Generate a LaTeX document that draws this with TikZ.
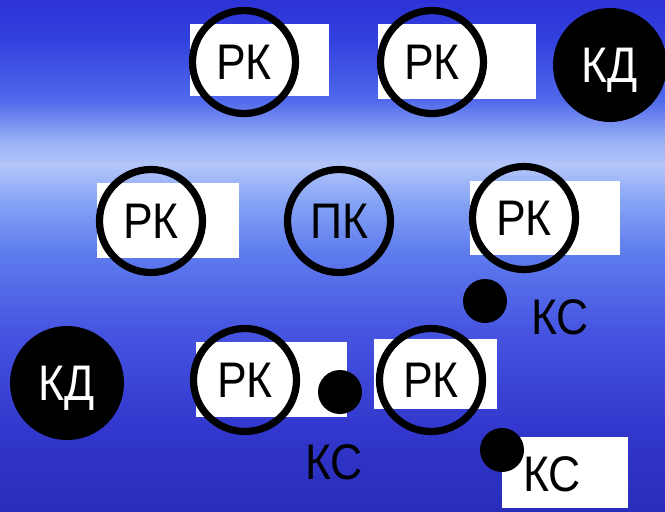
\documentclass[tikz,border=0pt]{standalone}
\usepackage{fontspec}
\setmainfont{Liberation Sans}
\newfontfamily\tagfont[FakeStretch=0.89]{Liberation Sans}
\definecolor{seaA}{RGB}{40,45,185}
\definecolor{seaB}{RGB}{50,55,205}
\definecolor{seaC}{RGB}{70,85,225}
\definecolor{seaD}{RGB}{95,125,238}
\definecolor{seaE}{RGB}{135,165,245}
\definecolor{seaF}{RGB}{180,198,250}
\definecolor{seaG}{RGB}{150,175,245}
\definecolor{seaH}{RGB}{80,105,235}
\definecolor{seaI}{RGB}{50,65,222}
\definecolor{seaJ}{RGB}{45,50,215}
\pgfdeclareverticalshading{sea}{100bp}{color(0bp)=(seaA); color(25bp)=(seaA);
  color(32.9bp)=(seaB); color(42.7bp)=(seaC); color(50.5bp)=(seaD);
  color(55.4bp)=(seaE); color(58.9bp)=(seaF); color(61.3bp)=(seaG);
  color(65.2bp)=(seaH); color(71.1bp)=(seaI); color(75bp)=(seaJ); color(100bp)=(seaJ)}
\begin{document}
\begin{tikzpicture}[x=0.5pt,y=-0.5pt,
    ring node/.style={circle,draw,line width=3.6pt,minimum size=51.5pt,inner sep=0pt,
      font=\tagfont\fontsize{25}{25}\selectfont,text depth=0pt},
    key node/.style={circle,fill=black,text=white,minimum size=57pt,inner sep=0pt,
      font=\tagfont\fontsize{25}{25}\selectfont,text depth=0pt},
    dot node/.style={circle,fill=black,minimum size=22pt,inner sep=0pt},
    tag node/.style={inner sep=0pt,font=\tagfont\fontsize{25}{25}\selectfont,text depth=0pt},
    paper/.style={fill=white} ]
    \useasboundingbox (0,0) rectangle (665,511);
    \shade [shading=sea] (0,0) rectangle (665,511);
    \fill [paper] (190,24) rectangle (329,96);
    \fill [paper] (378,24) rectangle (536,99);
    \fill [paper] (97,183) rectangle (239,258);
    \fill [paper] (470,181) rectangle (620,255);
    \fill [paper] (196,342) rectangle (347,417);
    \fill [paper] (374,339) rectangle (497,409);
    \fill [paper] (502,437) rectangle (628,508);
    \node at (244,62) [ring node] (rk1) {РК};
    \node at (432,62) [ring node] (rk2) {РК};
    \node at (610,65) [key node] (kd1) {КД};
    \node at (151,221) [ring node] (rk3) {РК};
    \node at (339,221) [ring node] (pk) {ПК};
    \node at (524,218) [ring node] (rk4) {РК};
    \node at (485,301) [dot node] (ks1) {};
    \node at (560,317) [tag node] (ks1 tag) {КС};
    \node at (67,383) [key node] (kd2) {КД};
    \node at (245,380) [ring node] (rk5) {РК};
    \node at (340,392) [dot node] (ks2) {};
    \node at (334,462) [tag node] (ks2 tag) {КС};
    \node at (431,380) [ring node] (rk6) {РК};
    \node at (502,450) [dot node] (ks3) {};
    \node at (552,474) [tag node] (ks3 tag) {КС};
\end{tikzpicture}
\end{document}
